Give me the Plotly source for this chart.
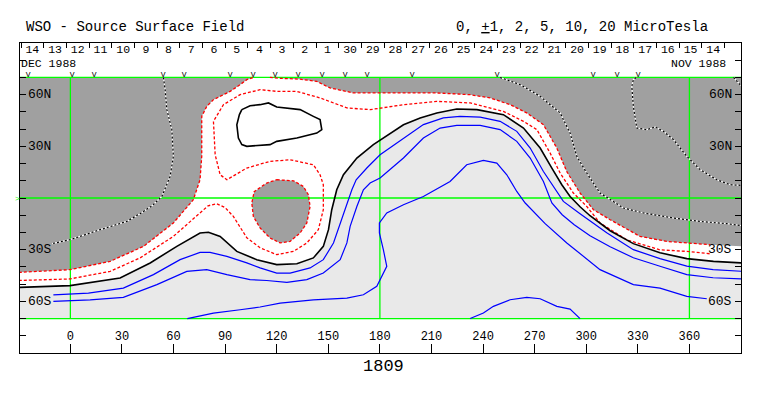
import plotly.graph_objects as go

# ---------------- data (longitude / latitude in degrees) ----------------
MAP_LON = [-30, 391]
MAP_LAT = [-70, 70]
GRID_LON = [0, 180, 360]
GRID_LAT = [-70, 0, 70]
X_TICKS = list(range(0, 361, 30))
Y_TICKS = list(range(-80, 81, 10))
Y_LABEL_VALS = [60, 30, -30, -60]
Y_LABEL_TEXT = ["60N", "30N", "30S", "60S"]
DAY_LABELS = ["14", "13", "12", "11", "10", "9", "8", "7", "6", "5", "4", "3", "2", "1",
              "30", "29", "28", "27", "26", "25", "24", "23", "22", "21", "20", "19",
              "18", "17", "16", "15", "14"]
DAY_START_LON = -28.7
DEG_PER_DAY = 360 / 27.2753
OBS_LON = [-24.6, 1.0, 13.8, 53.9, 66.1, 92.9, 106.3, 119.1, 132.4, 146.4, 159.8,
           172.6, 198.7, 248.2, 304.0, 318.0, 330.2]
ROTATION = "1809"

# edge of the strong negative (dark) region, western piece
NEG_W_LON = [-30, -0.2, 23.1, 42.5, 59.9, 71.5, 75.4, 76.4, 76.4, 79.3, 83.2, 92.9, 98.7, 102.6, 106.5]
NEG_W_LAT = [-43.2, -41.6, -36.8, -28.1, -14.5, -1.0, 10.6, 24.2, 47.4, 53.2, 57.1, 61.9, 65.8, 68.7, 70.0]
# eastern piece
NEG_E_LON = [116.0, 122.0, 133.6, 143.3, 147.1, 151.0, 164.6, 180.1, 213.1, 232.5, 244.1, 255.8,
             265.4, 275.1, 282.9, 288.7, 296.4, 304.2, 313.9, 331.3, 346.9, 358.5, 372.1, 391]
NEG_E_LAT = [70.0, 69.5, 69.0, 67.7, 65.8, 63.9, 61.0, 61.0, 61.0, 60.0, 58.1, 54.2,
             49.4, 42.6, 29.0, 15.3, 2.9, -6.8, -12.6, -22.3, -25.2, -26.1, -27.1, -28.0]
# negative island
ISL_LON = [120.0, 129.7, 135.5, 138.4, 139.4, 137.5, 133.6, 127.8, 122.0, 116.1, 110.3, 106.4, 105.5, 106.9, 114.2, 120.0]
ISL_LAT = [10.6, 10.0, 6.7, 1.9, -4.9, -14.5, -20.3, -25.2, -26.1, -23.2, -17.4, -10.7, -2.9, 3.7, 8.7, 10.6]
# inner negative contour
NEG1_LON = [-30, -0.2, 23.1, 40.5, 59.9, 75.4, 80.1, 85.1, 90.0, 94.8, 102.6, 110.3, 120.0, 129.7,
            137.5, 144.2, 147.1, 147.1, 145.2, 141.3, 127.8, 116.1, 102.6, 91.0, 87.1, 84.2, 83.2,
            89.0, 98.7, 110.3, 120.0, 131.7, 145.2, 160.8, 174.3, 193.7, 213.1, 232.5, 251.8,
            263.5, 271.3, 279.0, 284.8, 292.5, 300.3, 308.0, 323.6, 342.9, 358.5, 372.1]
NEG1_LAT = [-47.9, -47.0, -42.6, -34.8, -22.3, -8.7, -4.5, -3.3, -5.6, -10.7, -23.1, -28.9, -32.9,
            -31.0, -26.1, -18.4, -6.8, 7.7, 13.5, 19.3, 22.2, 21.3, 17.4, 10.6, 13.5, 25.1, 44.5,
            54.2, 60.0, 62.9, 61.9, 61.9, 58.1, 52.3, 51.3, 54.2, 56.1, 55.2, 50.3,
            44.5, 39.7, 26.1, 14.5, 2.9, -4.9, -14.5, -24.3, -30.1, -31.0, -32.4]
# neutral line
ZERO_LON = [-30, -0.2, 28.9, 46.4, 61.9, 75.4, 80.3, 87.1, 96.8, 108.4, 120.0, 131.7, 141.3, 147.1,
            150.1, 152.0, 154.9, 158.8, 166.6, 176.2, 193.7, 203.4, 213.1, 224.7, 236.4, 251.8,
            263.5, 273.2, 280.0, 285.8, 290.6, 296.4, 302.2, 313.9, 327.4, 342.9, 358.5, 374.0, 391]
ZERO_LAT = [-51.9, -50.9, -46.5, -37.7, -28.1, -20.3, -19.9, -22.3, -31.0, -35.8, -38.7, -38.2, -34.8,
            -28.1, -18.4, -6.8, 4.8, 13.5, 23.2, 31.0, 42.5, 46.5, 49.4, 51.7, 51.3, 48.4,
            40.6, 29.0, 17.4, 7.7, 0.9, -5.1, -10.3, -19.0, -26.5, -31.8, -35.2, -36.8, -37.7]
# closed loop in the north
LOOP_LON = [99.7, 104.5, 110.3, 115.2, 120.0, 133.6, 141.3, 145.2, 146.2, 143.3, 131.7, 120.0,
            116.1, 102.6, 99.7, 97.7, 96.8, 98.3, 99.7]
LOOP_LAT = [51.3, 53.6, 54.2, 55.2, 52.8, 51.3, 47.4, 45.5, 39.7, 37.7, 34.8, 32.9,
            31.0, 30.0, 31.0, 34.8, 42.5, 48.4, 51.3]
# positive contours
POS1_LON = [-9.9, 10.5, 30.8, 48.3, 63.8, 75.4, 81.2, 91.0, 102.6, 110.3, 120.0, 127.8, 139.4, 147.1,
            153.0, 156.9, 160.8, 163.7, 166.2, 172.4, 180.1, 193.7, 205.3, 216.9, 226.6, 238.3,
            249.9, 259.6, 267.4, 275.1, 280.9, 286.7, 296.4, 311.9, 327.4, 342.9, 358.5, 373.8, 391]
POS1_LAT = [-56.2, -55.2, -52.3, -44.5, -35.8, -31.6, -31.6, -33.9, -37.7, -40.6, -43.6, -43.6, -40.6,
            -35.8, -26.1, -14.5, -2.9, 4.8, 10.6, 17.4, 25.1, 34.8, 42.6, 46.5, 47.4, 47.0,
            44.5, 38.7, 29.0, 15.4, 6.7, -2.0, -9.1, -20.2, -30.0, -35.2, -39.6, -41.6, -42.6]
POS2_LON = [-9.9, 11.5, 30.8, 50.3, 67.7, 79.3, 91.0, 104.5, 114.2, 125.9, 137.5, 147.1, 156.9, 160.8,
            162.7, 166.6, 170.4, 174.3, 180.1, 193.7, 205.3, 215.0, 224.7, 238.3, 249.9, 259.6,
            267.4, 275.1, 280.0, 286.0, 293.0, 302.2, 313.9, 327.4, 342.9, 358.5, 373.8, 391]
POS2_LAT = [-60.0, -59.1, -57.7, -50.3, -42.6, -41.6, -44.5, -47.4, -47.9, -49.0, -47.4, -43.6, -35.8,
            -26.1, -16.5, -4.9, 4.8, 8.7, 11.6, 23.2, 34.8, 40.6, 42.2, 42.2, 39.7, 32.9,
            23.2, 9.6, -2.9, -9.7, -15.5, -21.9, -28.3, -34.7, -39.6, -44.5, -46.3, -47.0]
POS3_LON = [68.0, 83.2, 98.7, 110.3, 122.0, 141.3, 160.8, 170.4, 178.2, 184.0, 182.0, 179.7, 179.7,
            184.0, 193.7, 205.3, 220.8, 230.5, 240.2, 248.0, 253.8, 259.6, 264.5, 276.1, 288.7,
            308.0, 327.4, 342.9, 358.5, 370.1]
POS3_LAT = [-70.0, -66.8, -64.9, -63.3, -61.0, -59.1, -58.1, -56.2, -51.3, -39.7, -30.0, -20.3, -14.5,
            -8.7, -3.9, 0.9, 9.6, 19.3, 21.8, 20.3, 13.5, 3.8, -2.9, -14.9, -26.1,
            -41.6, -50.3, -52.3, -57.1, -58.5]
POS4_LON = [232.5, 240.2, 246.0, 255.7, 265.4, 273.2, 282.9, 290.6, 296.4]
POS4_LAT = [-70.0, -66.8, -62.9, -59.1, -57.7, -58.5, -62.9, -64.5, -70.0]
# dotted contours inside the dark region
DOT1_LON = [54.1, 55.1, 56.1, 59.0, 59.9, 58.0, 53.2, 47.5, 40.5, 32.8, 17.3, -0.2, -10.6]
DOT1_LAT = [70.0, 62.9, 51.3, 39.7, 24.2, 12.5, 0.9, -4.5, -9.1, -13.6, -18.4, -24.2, -26.5]
DOT2_LON = [249.9, 261.6, 273.2, 284.8, 290.6, 294.5, 300.3, 308.0, 321.6, 333.3, 350.7, 366.2, 381.8, 391]
DOT2_LAT = [70.0, 65.8, 59.0, 49.4, 37.7, 24.2, 14.5, 2.9, -5.8, -8.7, -11.6, -13.6, -14.9, -16.1]
DOT3_LON = [329.0, 327.4, 326.5, 327.4, 329.4, 335.2, 340.1, 344.9, 350.7, 358.5, 366.2, 375.9, 383.7, 391]
DOT3_LAT = [70.0, 68.7, 64.8, 53.2, 40.6, 39.7, 41.2, 38.7, 33.9, 24.2, 16.5, 10.6, 7.7, 7.3]
DOT4_LON = [385.6, 389.5, 391]
DOT4_LAT = [70.0, 65.8, 65.2]

# ---------------- styling ----------------
DARK = "#A0A0A0"
LIGHT = "#E9E9E9"
GREEN = "#00FF00"
FONT = "Liberation Mono"
X_RANGE = [-29.3, 390.0]
Y_RANGE = [-90, 90]

fig = go.Figure()


def poly(lons, lats, color):
    fig.add_trace(go.Scatter(x=lons, y=lats, mode="lines", fill="toself", fillcolor=color,
                             line=dict(width=0, color=color), hoverinfo="skip"))


def line(lons, lats, color, width=1.2, dash="solid"):
    fig.add_trace(go.Scatter(x=lons, y=lats, mode="lines", line=dict(color=color, width=width, dash=dash),
                             hoverinfo="skip"))


# fills
poly([MAP_LON[0], MAP_LON[1], MAP_LON[1], MAP_LON[0]], [MAP_LAT[0], MAP_LAT[0], MAP_LAT[1], MAP_LAT[1]], DARK)
poly(NEG_W_LON + NEG_E_LON + [MAP_LON[1], MAP_LON[0]], NEG_W_LAT + NEG_E_LAT + [MAP_LAT[0], MAP_LAT[0]], "white")
poly(ZERO_LON + [MAP_LON[1], MAP_LON[0]], ZERO_LAT + [MAP_LAT[0], MAP_LAT[0]], LIGHT)
poly(ISL_LON, ISL_LAT, DARK)

# grid (green)
gx, gy = [], []
for lo in GRID_LON:
    gx += [lo, lo, None]
    gy += [MAP_LAT[0], MAP_LAT[1], None]
for la in GRID_LAT:
    gx += [MAP_LON[0], MAP_LON[1], None]
    gy += [la, la, None]
line(gx, gy, GREEN, 1.3)

# dotted contours (black / white alternating)
for lo, la in [(DOT1_LON, DOT1_LAT), (DOT2_LON, DOT2_LAT), (DOT3_LON, DOT3_LAT), (DOT4_LON, DOT4_LAT)]:
    line(lo, la, "white", 1.2)
    line(lo, la, "black", 1.2, "2px,2px")

# negative contours (red dashed)
RED_DASH = "3px,2px"
line(NEG_W_LON, NEG_W_LAT, "red", 1.3, RED_DASH)
e_lon = [v for v in NEG_E_LON if v <= 372.2]
line(e_lon, NEG_E_LAT[:len(e_lon)], "red", 1.3, RED_DASH)
line(ISL_LON, ISL_LAT, "red", 1.3, RED_DASH)
line(NEG1_LON, NEG1_LAT, "red", 1.3, RED_DASH)

# neutral line and loop
line(ZERO_LON, ZERO_LAT, "black", 1.6)
line(LOOP_LON, LOOP_LAT, "black", 1.6)

# positive contours
for lo, la in [(POS1_LON, POS1_LAT), (POS2_LON, POS2_LAT), (POS3_LON, POS3_LAT), (POS4_LON, POS4_LAT)]:
    line(lo, la, "blue", 1.2)

# x tick labels
fig.add_trace(go.Scatter(x=X_TICKS, y=[-80.8] * len(X_TICKS), mode="text", text=[str(v) for v in X_TICKS],
                         textfont=dict(family=FONT, size=12, color="black"), cliponaxis=False, hoverinfo="skip"))

# observation markers
fig.add_trace(go.Scatter(x=OBS_LON, y=[71.7] * len(OBS_LON), mode="text", text=["V"] * len(OBS_LON),
                         textfont=dict(family=FONT, size=8, color="black"), cliponaxis=False, hoverinfo="skip"))

# day labels (top, on the secondary x axis)
day_sep = [DAY_START_LON + i * DEG_PER_DAY for i in range(len(DAY_LABELS) + 1)]
day_mid = [DAY_START_LON + (i + 0.5) * DEG_PER_DAY for i in range(len(DAY_LABELS))]
fig.add_trace(go.Scatter(x=day_mid, y=[85.6] * len(day_mid), mode="text", text=DAY_LABELS, xaxis="x2",
                         textfont=dict(family=FONT, size=11.5, color="black"), cliponaxis=False, hoverinfo="skip"))

ann = []
for v, t in zip(Y_LABEL_VALS, Y_LABEL_TEXT):
    ann.append(dict(x=-25.0, y=v, xref="x", yref="y", text=t, showarrow=False, xanchor="left",
                    yanchor="middle", font=dict(family=FONT, size=13, color="black"), borderpad=0))
    ann.append(dict(x=385.6, y=v, xref="x", yref="y", text=t, showarrow=False, xanchor="right",
                    yanchor="middle", font=dict(family=FONT, size=13, color="black"), borderpad=0))
ann.append(dict(x=-29.3, y=78.0, xref="x", yref="y", text="DEC 1988", showarrow=False, xanchor="left",
                yanchor="middle", font=dict(family=FONT, size=11.5, color="black"), borderpad=0))
ann.append(dict(x=381.8, y=78.0, xref="x", yref="y", text="NOV 1988", showarrow=False, xanchor="right",
                yanchor="middle", font=dict(family=FONT, size=11.5, color="black"), borderpad=0))
ann.append(dict(x=0.0055, y=1.0526, xref="paper", yref="paper", text="WSO - Source Surface Field",
                showarrow=False, xanchor="left", yanchor="middle", font=dict(family=FONT, size=14, color="black")))
ann.append(dict(x=0.957, y=1.0526, xref="paper", yref="paper", text="0, <u>+</u>1, 2, 5, 10, 20 MicroTesla",
                showarrow=False, xanchor="right", yanchor="middle", font=dict(family=FONT, size=14, color="black")))
ann.append(dict(x=0.5035, y=-0.044, xref="paper", yref="paper", text=ROTATION,
                showarrow=False, xanchor="center", yanchor="middle", font=dict(family=FONT, size=17, color="black")))
ann.append(dict(x=-0.004, y=0, xref="paper", yref="y", text=">", showarrow=False, xanchor="center",
                yanchor="middle", font=dict(family=FONT, size=8, color=GREEN)))

# the page body adds an 8px offset, so the figure is sized to fit the remaining window
fig.update_layout(
    width=755, height=388,
    margin=dict(l=12, r=22, t=35, b=43),
    paper_bgcolor="white", plot_bgcolor="white",
    showlegend=False,
    xaxis=dict(range=X_RANGE, showgrid=False, zeroline=False, showline=True, mirror=True,
               linecolor="black", linewidth=1, ticks="inside", tickvals=X_TICKS, ticklen=9,
               tickcolor="black", tickwidth=1, showticklabels=False),
    xaxis2=dict(range=X_RANGE, overlaying="x", side="top", showgrid=False, zeroline=False,
                showline=False, ticks="inside", tickvals=day_sep, ticklen=5, tickcolor="black",
                tickwidth=1, showticklabels=False),
    yaxis=dict(range=Y_RANGE, showgrid=False, zeroline=False, showline=True, mirror="ticks",
               linecolor="black", linewidth=1, ticks="inside", tickvals=Y_TICKS, ticklen=6,
               tickcolor="black", tickwidth=1, showticklabels=False),
    annotations=ann,
)

fig.write_html("out.html")
